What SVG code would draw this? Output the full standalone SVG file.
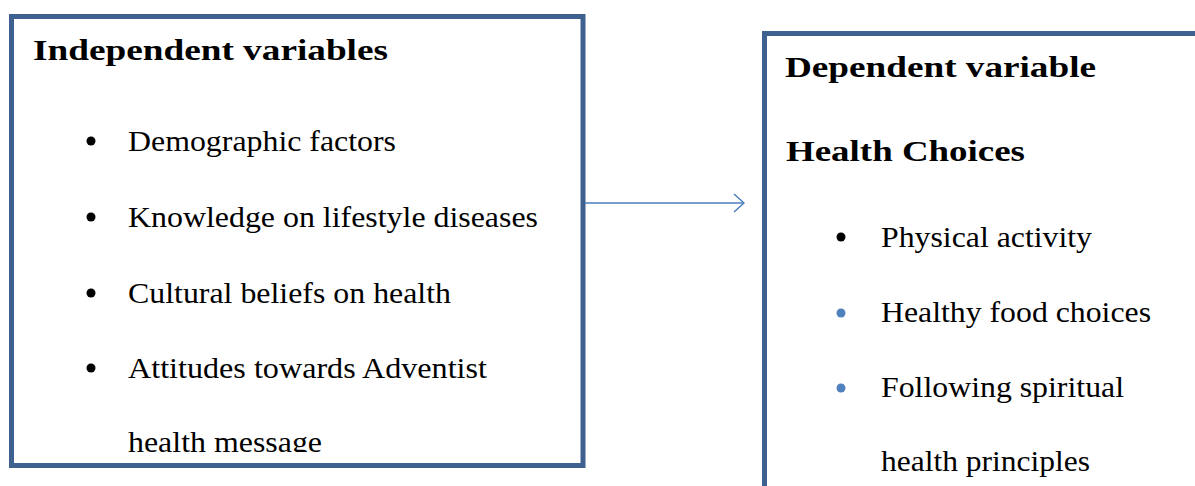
<svg xmlns="http://www.w3.org/2000/svg" width="1195" height="486" viewBox="0 0 1195 486">
<style>
.box{fill:#fff;stroke:#3e6190;stroke-width:5}
.h{font-family:"Liberation Serif","Times New Roman",serif;font-weight:bold;font-size:30px;fill:#000}
.t{font-family:"Liberation Serif","Times New Roman",serif;font-size:29px;fill:#000}
.conn{stroke:#4a7ebb;stroke-width:1.5;fill:none}
</style>
<defs>
<marker id="arr" viewBox="0 0 12 20" refX="11" refY="10" markerWidth="12" markerHeight="20" markerUnits="userSpaceOnUse" orient="auto">
<path d="M1,1 L11,10 L1,19" fill="none" stroke="#4a7ebb" stroke-width="1.5"/>
</marker>
<clipPath id="clipL"><rect x="14" y="19" width="566" height="433"/></clipPath>
</defs>
<g id="independent">
<rect class="box" x="11.5" y="16.5" width="571.5" height="449"/>
<g clip-path="url(#clipL)">
<text class="h" x="33" y="60" textLength="355" lengthAdjust="spacingAndGlyphs">Independent variables</text>
<circle cx="91" cy="141" r="4.5" fill="#000"/>
<text class="t" x="128" y="151" textLength="268" lengthAdjust="spacingAndGlyphs">Demographic factors</text>
<circle cx="91" cy="217" r="4.5" fill="#000"/>
<text class="t" x="128" y="227" textLength="410" lengthAdjust="spacingAndGlyphs">Knowledge on lifestyle diseases</text>
<circle cx="91" cy="293" r="4.5" fill="#000"/>
<text class="t" x="128" y="303" textLength="323" lengthAdjust="spacingAndGlyphs">Cultural beliefs on health</text>
<circle cx="91" cy="368" r="4.5" fill="#000"/>
<text class="t" x="128" y="378" textLength="359" lengthAdjust="spacingAndGlyphs">Attitudes towards Adventist</text>
<text class="t" x="128" y="452" textLength="194" lengthAdjust="spacingAndGlyphs">health message</text>
</g>
</g>
<g id="dependent">
<rect class="box" x="764.5" y="33.5" width="440" height="470"/>
<text class="h" x="785" y="77" textLength="311" lengthAdjust="spacingAndGlyphs">Dependent variable</text>
<text class="h" x="786" y="161" textLength="239" lengthAdjust="spacingAndGlyphs">Health Choices</text>
<circle cx="841" cy="237" r="4.5" fill="#000"/>
<text class="t" x="881" y="247" textLength="211" lengthAdjust="spacingAndGlyphs">Physical activity</text>
<circle cx="841" cy="313" r="4.5" fill="#4f81bd"/>
<text class="t" x="881" y="322" textLength="270" lengthAdjust="spacingAndGlyphs">Healthy food choices</text>
<circle cx="841" cy="388" r="4.5" fill="#4f81bd"/>
<text class="t" x="881" y="397" textLength="243" lengthAdjust="spacingAndGlyphs">Following spiritual</text>
<text class="t" x="881" y="471" textLength="209" lengthAdjust="spacingAndGlyphs">health principles</text>
</g>
<g id="connectors">
<line class="conn" x1="585" y1="203" x2="744" y2="203" marker-end="url(#arr)"/>
</g>
</svg>
